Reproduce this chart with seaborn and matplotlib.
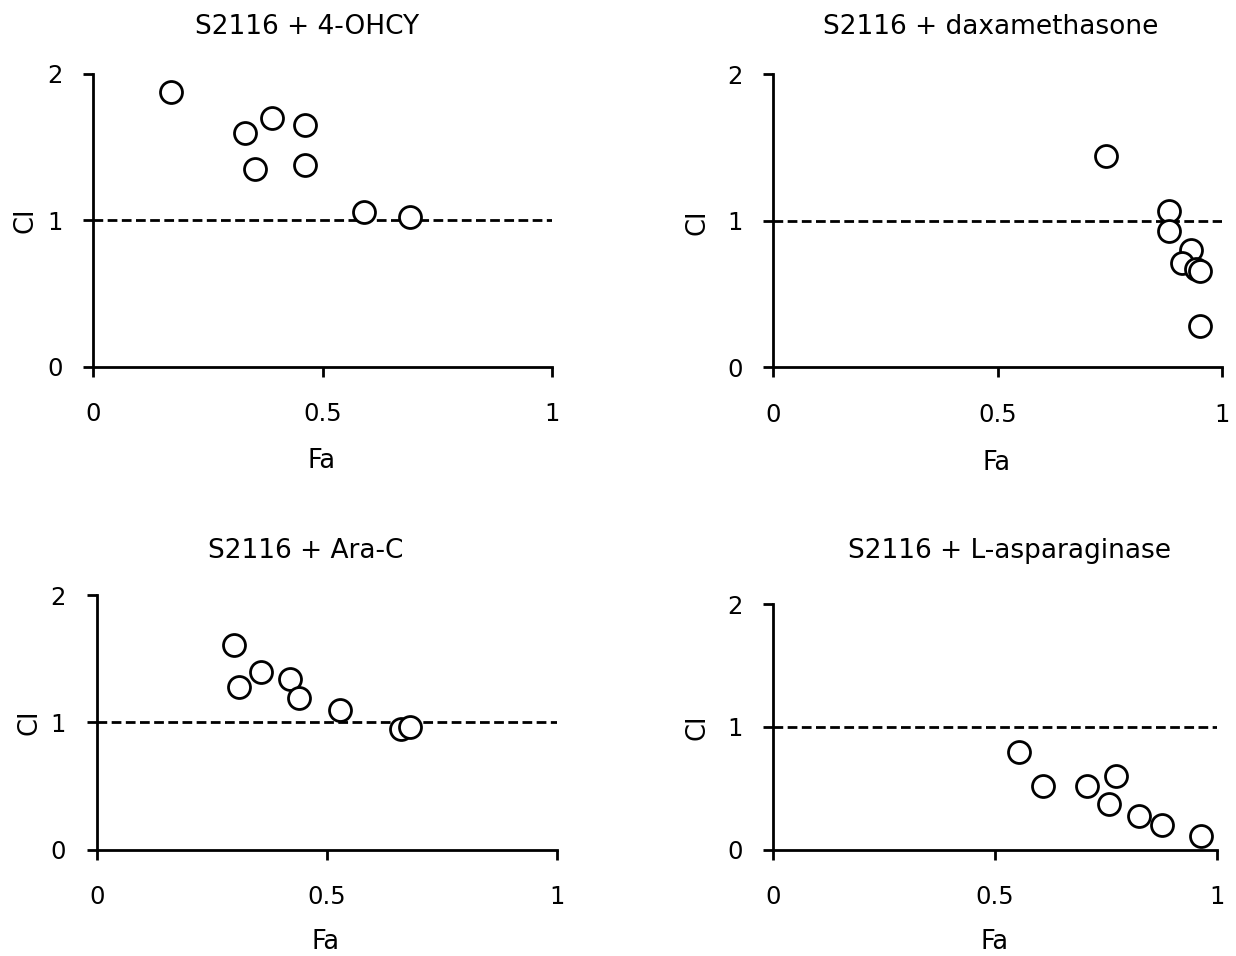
import pandas as pd
import matplotlib
matplotlib.use("Agg")
import matplotlib.pyplot as plt
import seaborn as sns

# Fa / CI values
fa_4ohcy = [0.170, 0.330, 0.390, 0.461, 0.352, 0.461, 0.590, 0.691]
ci_4ohcy = [1.876, 1.60, 1.70, 1.65, 1.35, 1.38, 1.06, 1.02]

fa_dexa = [0.741, 0.881, 0.880, 0.930, 0.909, 0.941, 0.951, 0.951]
ci_dexa = [1.44, 1.07, 0.93, 0.80, 0.71, 0.67, 0.66, 0.285]

fa_arac = [0.299, 0.310, 0.357, 0.420, 0.440, 0.530, 0.662, 0.681]
ci_arac = [1.61, 1.28, 1.40, 1.34, 1.19, 1.10, 0.95, 0.966]

fa_lasp = [0.553, 0.609, 0.708, 0.772, 0.757, 0.824, 0.876, 0.964]
ci_lasp = [0.795, 0.52, 0.52, 0.60, 0.37, 0.28, 0.20, 0.116]

titles = ["S2116 + 4-OHCY", "S2116 + daxamethasone", "S2116 + Ara-C", "S2116 + L-asparaginase"]
x_ticks = [0, 0.5, 1]
x_ticklabels = ["0", "0.5", "1"]
y_ticks = [0, 1, 2]
y_ticklabels = ["0", "1", "2"]

sns.set_theme(style="white")
plt.rcParams['font.family'] = ['DejaVu Sans']
plt.rcParams['text.color'] = 'black'

fig = plt.figure(figsize=(12.36, 9.56), dpi=100)

# axes boxes (left, bottom, width, height) in figure fraction
boxes = [
    [0.0755, 0.6164, 0.3709, 0.3062],
    [0.6257, 0.6158, 0.3633, 0.3065],
    [0.0782, 0.1109, 0.3722, 0.2667],
    [0.6257, 0.1109, 0.3587, 0.2573],
]
# text anchors in pixels (x centre, baseline y)
title_pos = [(307, 34), (991, 34), (306, 558), (1009, 558)]
xlabel_pos = [(322, 468), (997, 470), (326, 949), (995, 949)]
ylabel_pos = [(26, 220), (697, 222), (29, 722), (697, 727)]

datasets = [(fa_4ohcy, ci_4ohcy), (fa_dexa, ci_dexa), (fa_arac, ci_arac), (fa_lasp, ci_lasp)]

W, H = 1236, 956

for i, (fa, ci) in enumerate(datasets):
    ax = fig.add_axes(boxes[i])
    df = pd.DataFrame({"Fa": fa, "CI": ci})
    ax.axhline(1, color="black", lw=2, linestyle=(0, (3.5, 1.6)), zorder=1)
    sns.scatterplot(data=df, x="Fa", y="CI", ax=ax, s=250, facecolor="white",
                    edgecolor="black", linewidth=2, zorder=3, clip_on=False)
    ax.set_xlim(0, 1)
    ax.set_ylim(0, 2)
    ax.set_xticks(x_ticks)
    ax.set_xticklabels(x_ticklabels)
    ax.set_yticks(y_ticks)
    ax.set_yticklabels(y_ticklabels)
    ax.set_xlabel("")
    ax.set_ylabel("")
    for side in ["top", "right"]:
        ax.spines[side].set_visible(False)
    for side in ["left", "bottom"]:
        ax.spines[side].set_color("black")
        ax.spines[side].set_linewidth(2)
    ax.tick_params(axis="both", direction="out", length=7, width=2, color="black",
                   labelsize=17.5, labelcolor="black", bottom=True, left=True)
    ax.tick_params(axis="x", pad=18.5)
    ax.tick_params(axis="y", pad=15)

    tx, ty = title_pos[i]
    fig.text(tx / W, 1 - ty / H, titles[i], ha="center", va="baseline", fontsize=19)
    lx, ly = xlabel_pos[i]
    fig.text(lx / W, 1 - ly / H, "Fa", ha="center", va="baseline", fontsize=18.5)
    yx, yy = ylabel_pos[i]
    fig.text(yx / W, 1 - yy / H, "CI", ha="center", va="center", fontsize=18.5, rotation=90)

fig.savefig("out.png", dpi=100, facecolor="white")
